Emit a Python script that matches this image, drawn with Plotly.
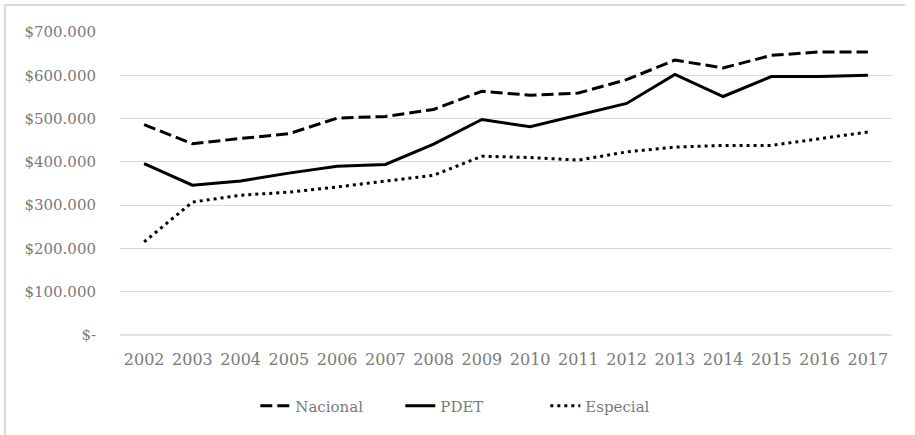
import plotly.graph_objects as go

years = [str(y) for y in range(2002, 2018)]
nacional = [486000, 442000, 454000, 465000, 501000, 505000, 521000, 563000,
            554000, 559000, 590000, 635000, 617000, 646000, 654000, 654000]
pdet = [396000, 346000, 356000, 374000, 390000, 394000, 441000, 498000,
        481000, 508000, 535000, 602000, 551000, 597000, 597000, 600000]
especial = [215000, 307000, 323000, 330000, 342000, 355000, 369000, 413000,
            410000, 404000, 423000, 434000, 438000, 438000, 454000, 469000]
tick_vals = [0, 100000, 200000, 300000, 400000, 500000, 600000, 700000]
tick_text = ["$-", "$100.000", "$200.000", "$300.000", "$400.000",
             "$500.000", "$600.000", "$700.000"]

W, H = 915, 435
font_family = "DejaVu Serif, Liberation Serif, serif"
text_color = "#7a7a7a"

fig = go.Figure()
fig.add_trace(go.Scatter(x=years, y=nacional, name="Nacional", mode="lines",
                         line=dict(color="black", width=3, dash="12px,5px")))
fig.add_trace(go.Scatter(x=years, y=pdet, name="PDET", mode="lines",
                         line=dict(color="black", width=3)))
fig.add_trace(go.Scatter(x=years, y=especial, name="Especial", mode="lines",
                         line=dict(color="black", width=3, dash="3px,4px")))

fig.update_layout(
    width=W, height=H,
    margin=dict(l=120, r=W - 892, t=32, b=H - 335),
    paper_bgcolor="white", plot_bgcolor="white",
    font=dict(family=font_family, size=15, color=text_color),
    showlegend=True,
    legend=dict(orientation="h", x=0.457, xanchor="center", y=-0.18, yanchor="top",
                font=dict(family=font_family, size=15, color=text_color),
                entrywidth=100, entrywidthmode="pixels",
                tracegroupgap=0),
    xaxis=dict(type="category", range=[-0.5, 15.5], showgrid=False,
               showline=False, zeroline=False, ticks="",
               tickfont=dict(size=16, color=text_color), ticklabelstandoff=13),
    yaxis=dict(range=[0, 700000], tickvals=tick_vals, ticktext=tick_text,
               showgrid=True, gridcolor="#d9d9d9", gridwidth=1.3,
               zeroline=False, showline=False, ticks="",
               tickfont=dict(size=15, color=text_color), ticklabelstandoff=23),
    shapes=[
        dict(type="line", xref="paper", yref="paper", x0=0, x1=1, y0=0, y1=0,
             line=dict(color="#d9d9d9", width=1.3), layer="below"),
        dict(type="line", xref="paper", yref="paper",
             x0=-115/772, x1=-115/772, y0=1 + 27/303, y1=-100/303,
             line=dict(color="#d9d9d9", width=2)),
        dict(type="line", xref="paper", yref="paper",
             x0=-115/772, x1=(905 - 120)/772, y0=1 + 27/303, y1=1 + 27/303,
             line=dict(color="#d9d9d9", width=2)),
    ],
)

fig.write_html("out.html")
